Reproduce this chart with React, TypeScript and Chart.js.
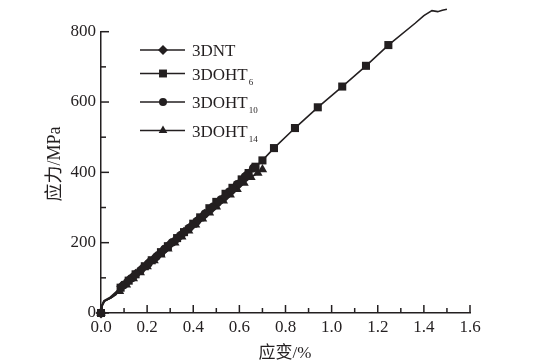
import React, { useEffect, useRef } from "react";
import { Chart, registerables } from "chart.js";

Chart.register(...registerables);

// ---- data ----
const seriesNames = ["3DNT", "3DOHT6", "3DOHT10", "3DOHT14"];
const legendMain = ["3DNT", "3DOHT", "3DOHT", "3DOHT"];
const legendSub = ["", "6", "10", "14"];

const strainNT = [0, 0.003, 0.012, 0.04, 0.065, 0.09, 0.12, 0.15, 0.18, 0.21, 0.24, 0.27, 0.3, 0.33, 0.36, 0.39, 0.42, 0.45, 0.48, 0.51, 0.54, 0.57, 0.6, 0.63];
const stressNT = [0, 20, 34, 42, 52, 76, 93, 110, 127, 145, 161, 178, 196, 212, 230, 246, 264, 281, 298, 316, 332, 350, 368, 392];

const strainOHT6 = [0, 0.004, 0.014, 0.045, 0.085, 0.12, 0.15, 0.19, 0.22, 0.26, 0.29, 0.33, 0.36, 0.4, 0.43, 0.47, 0.5, 0.54, 0.57, 0.61, 0.64, 0.67, 0.7, 0.75, 0.841, 0.94, 1.046, 1.149, 1.246, 1.362, 1.4, 1.435, 1.46, 1.48, 1.5];
const stressOHT6 = [0, 18, 33, 44, 72, 92, 110, 133, 150, 173, 190, 213, 230, 254, 272, 298, 316, 339, 356, 380, 398, 416, 434, 469, 526, 585, 644, 703, 762, 824, 846, 860, 857, 861, 864];

const strainOHT10 = [0, 0.004, 0.014, 0.04, 0.1, 0.135, 0.17, 0.205, 0.24, 0.275, 0.31, 0.345, 0.38, 0.415, 0.45, 0.485, 0.52, 0.555, 0.59, 0.625, 0.66];
const stressOHT10 = [0, 22, 35, 45, 80, 100, 120, 140, 160, 182, 201, 221, 241, 261, 282, 302, 323, 345, 366, 388, 412];

const strainOHT14 = [0, 0.004, 0.016, 0.05, 0.08, 0.11, 0.14, 0.17, 0.2, 0.23, 0.26, 0.29, 0.32, 0.35, 0.38, 0.41, 0.44, 0.47, 0.5, 0.53, 0.56, 0.59, 0.62, 0.65, 0.68, 0.7];
const stressOHT14 = [0, 20, 34, 46, 62, 80, 98, 115, 132, 149, 166, 183, 200, 217, 234, 251, 268, 285, 302, 319, 336, 352, 370, 386, 398, 408];

const xTicks = [0, 0.1, 0.2, 0.3, 0.4, 0.5, 0.6, 0.7, 0.8, 0.9, 1.0, 1.1, 1.2, 1.3, 1.4, 1.5, 1.6];
const yTicks = [0, 100, 200, 300, 400, 500, 600, 700, 800];

const xTitle = "应变/%";
const yTitle = "应力/MPa";

const INK = "#231f20";
const SERIF = '"Liberation Serif", "DejaVu Serif", serif';
const CJK = '"Liberation Serif", "Noto Sans CJK SC", serif';

const pointStyles = ["rectRot", "rect", "circle", "triangle"];
const pointSizes = [5.5, 5.7, 4.3, 5.5];
const legendSizes = [5, 5.6, 4, 5];

function drawMarker(ctx: CanvasRenderingContext2D, style: string, x: number, y: number, r: number) {
  ctx.beginPath();
  if (style === "rectRot") {
    ctx.moveTo(x, y - r);
    ctx.lineTo(x + r, y);
    ctx.lineTo(x, y + r);
    ctx.lineTo(x - r, y);
    ctx.closePath();
  } else if (style === "rect") {
    const s = r * Math.SQRT1_2;
    ctx.rect(x - s, y - s, 2 * s, 2 * s);
  } else if (style === "circle") {
    ctx.arc(x, y, r, 0, Math.PI * 2);
  } else {
    const h = r * 1.5;
    const w = r * Math.sqrt(3);
    ctx.moveTo(x, y - h * 2 / 3);
    ctx.lineTo(x + w / 2, y + h / 3);
    ctx.lineTo(x - w / 2, y + h / 3);
    ctx.closePath();
  }
  ctx.fill();
}

const decorPlugin = {
  id: "decor",
  afterDraw(chart: any) {
    const ctx: CanvasRenderingContext2D = chart.ctx;
    const xs = chart.scales.x;
    const ys = chart.scales.y;
    const area = chart.chartArea;
    ctx.save();
    ctx.strokeStyle = INK;
    ctx.fillStyle = INK;
    ctx.lineWidth = 1.5;
    // inward ticks
    xTicks.forEach((v, i) => {
      const px = xs.getPixelForValue(v);
      const len = i % 2 === 0 ? 8 : 5;
      ctx.beginPath();
      ctx.moveTo(px, area.bottom);
      ctx.lineTo(px, area.bottom - len);
      ctx.stroke();
    });
    yTicks.forEach((v, i) => {
      const py = ys.getPixelForValue(v);
      const len = i % 2 === 0 ? 8 : 5;
      ctx.beginPath();
      ctx.moveTo(area.left, py);
      ctx.lineTo(area.left + len, py);
      ctx.stroke();
    });
    // axis titles
    ctx.font = `17px ${CJK}`;
    ctx.textAlign = "center";
    ctx.textBaseline = "middle";
    ctx.fillText(xTitle, 285, 354);
    ctx.save();
    ctx.translate(55.5, 164);
    ctx.rotate(-Math.PI / 2);
    ctx.font = `18px ${CJK}`;
    ctx.fillText(yTitle, 0, 0);
    ctx.restore();
    // legend
    const rows = [50, 73.5, 102, 130.5];
    rows.forEach((ry, i) => {
      ctx.lineWidth = 1.5;
      ctx.beginPath();
      ctx.moveTo(140, ry);
      ctx.lineTo(185, ry);
      ctx.stroke();
      drawMarker(ctx, pointStyles[i], 163, ry, legendSizes[i]);
      ctx.font = `17px ${SERIF}`;
      ctx.textAlign = "left";
      ctx.textBaseline = "alphabetic";
      ctx.fillText(legendMain[i], 192, ry + 6);
      if (legendSub[i]) {
        const w = ctx.measureText(legendMain[i]).width;
        ctx.font = `9px ${SERIF}`;
        ctx.fillText(legendSub[i], 192 + w + 1, ry + 11);
      }
    });
    ctx.restore();
  },
};

function toPoints(xs: number[], ys: number[]) {
  return xs.map((x, i) => ({ x, y: ys[i] }));
}

export default function App() {
  const ref = useRef<HTMLCanvasElement>(null);
  useEffect(() => {
    if (!ref.current) return;
    const sets = [
      toPoints(strainNT, stressNT),
      toPoints(strainOHT6, stressOHT6),
      toPoints(strainOHT10, stressOHT10),
      toPoints(strainOHT14, stressOHT14),
    ];
    const chart = new Chart(ref.current, {
      type: "scatter",
      data: {
        datasets: sets.map((data, i) => ({
          label: seriesNames[i],
          data,
          showLine: true,
          borderColor: INK,
          backgroundColor: INK,
          borderWidth: 1.6,
          tension: 0,
          clip: false as any,
          pointStyle: pointStyles[i] as any,
          pointBorderWidth: 0,
          pointRadius: (c: any) => {
            const p = c.raw;
            if (!p) return 0;
            if (p.x > 0 && p.x < 0.075) return 0;
            if (p.y > 830) return 0;
            return pointSizes[i];
          },
          pointHoverRadius: 0,
        })),
      },
      options: {
        animation: false,
        responsive: false,
        events: [],
        layout: { padding: { left: 0, top: 31.7, right: 87, bottom: 0 } },
        plugins: { legend: { display: false }, tooltip: { enabled: false } },
        scales: {
          x: {
            type: "linear",
            min: 0,
            max: 1.6,
            grid: { display: false, drawTicks: false },
            border: { display: true, color: INK, width: 1.5 },
            afterFit: (s: any) => { s.height = 51; },
            ticks: {
              stepSize: 0.1,
              autoSkip: false,
              maxRotation: 0,
              padding: 4,
              color: INK,
              font: { family: SERIF, size: 17 },
              callback: (v: any) => (Math.round(Number(v) * 10) % 2 === 0 ? Number(v).toFixed(1) : ""),
            },
          },
          y: {
            type: "linear",
            min: 0,
            max: 800,
            grid: { display: false, drawTicks: false },
            border: { display: true, color: INK, width: 1.5 },
            afterFit: (s: any) => { s.width = 101; },
            ticks: {
              stepSize: 100,
              autoSkip: false,
              padding: 5,
              color: INK,
              font: { family: SERIF, size: 17 },
              callback: (v: any) => (Number(v) % 200 === 0 ? String(v) : ""),
            },
          },
        },
      },
      plugins: [decorPlugin],
    });
    return () => chart.destroy();
  }, []);
  return (
    <div style={{ position: "fixed", left: 0, top: 0, width: 557, height: 364, background: "#fff" }}>
      <canvas ref={ref} width={557} height={364} />
    </div>
  );
}
